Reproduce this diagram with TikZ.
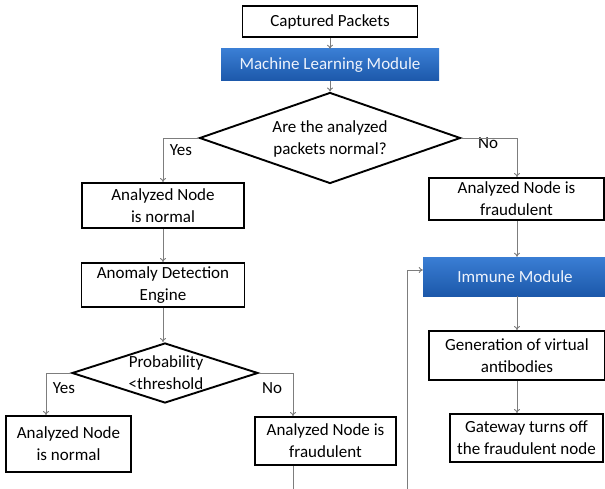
\documentclass[tikz,border=0pt]{standalone}
\usepackage{fontspec}
\setmainfont{Carlito}
\usetikzlibrary{arrows.meta,shapes.geometric}
\definecolor{lineg}{RGB}{125,125,125}
\definecolor{bluetop}{RGB}{58,126,212}
\definecolor{bluebot}{RGB}{28,88,170}
\definecolor{bluetext}{RGB}{238,243,252}
\begin{document}
\begin{tikzpicture}[x=1pt,y=-1pt,
  font=\fontsize{17}{22}\selectfont,
  box/.style={draw=black,line width=1.9pt,align=center,inner sep=0pt},
  bluebox/.style={top color=bluetop,bottom color=bluebot,text=bluetext,align=center,inner sep=0pt},
  dia/.style={draw=black,line width=1.9pt,diamond,inner sep=0pt},
  conn/.style={draw=lineg,line width=0.9pt},
  arr/.style={conn,-{To[length=4pt,width=6pt]}},
  lbl/.style={inner sep=0pt}]
\useasboundingbox (0,0) rectangle (605,489);
\fill[white] (0,0) rectangle (605,489);
% nodes
\node[box,minimum width=175pt,minimum height=31pt] (cap) at (330,21.5) {Captured Packets};
\node[bluebox,minimum width=218pt,minimum height=32pt] (ml) at (330,65) {Machine Learning Module};
\node[dia,minimum width=261pt,minimum height=91pt] (d1) at (330,138) {};
\node[align=center,inner sep=0pt] (d1t) at (330,139) {Are the analyzed\\packets normal?};
\node[box,minimum width=162pt,minimum height=45pt] (an1) at (163,205.5) {Analyzed Node\\is normal};
\node[box,minimum width=175pt,minimum height=42pt] (af1) at (516.5,199) {Analyzed Node is\\fraudulent};
\node[box,minimum width=163pt,minimum height=44pt] (ade) at (163,285) {Anomaly Detection\\Engine};
\node[dia,minimum width=186pt,minimum height=60pt] (d2) at (165,373) {};
\node[align=center,inner sep=0pt] (d2t) at (166,373) {Probability\\<threshold};
\node[box,minimum width=125pt,minimum height=56pt] (an2) at (68.5,444) {Analyzed Node\\is normal};
\node[box,minimum width=141pt,minimum height=48pt] (af2) at (325.5,441) {Analyzed Node is\\fraudulent};
\node[bluebox,minimum width=184pt,minimum height=39pt] (im) at (515,276.5) {Immune Module};
\node[box,minimum width=176pt,minimum height=49pt] (gen) at (517,355.5) {Generation of virtual\\antibodies};
\node[box,minimum width=153pt,minimum height=48pt] (gw) at (526.5,438) {Gateway turns off\\the fraudulent node};
% labels
\node[lbl] (y1) at (181,150) {Yes};
\node[lbl] (n1) at (488,143) {No};
\node[lbl] (y2) at (64,388) {Yes};
\node[lbl] (n2) at (272,388) {No};
% helper coordinates
\coordinate (ya) at (163,138);
\coordinate (nr) at (517,138);
\coordinate (yb) at (46,373);
\coordinate (nb) at (293,373);
\coordinate (lp1) at (293,493);
\coordinate (lp2) at (407,493);
\coordinate (lp3) at (407,270);
% connectors
\draw[arr] (cap) -- (ml);
\draw[arr] (ml) -- (d1);
\draw[arr] (d1.west) -- (ya) -- (an1.north);
\draw[arr] (d1.east) -- (nr) -- (nr |- af1.north);
\draw[arr] (an1) -- (ade);
\draw[arr] (ade.south) -- (ade.south |- d2.north);
\draw[arr] (d2.west) -- (yb) -- (yb |- an2.north);
\draw[arr] (d2.east) -- (nb) -- (nb |- af2.north);
\draw[arr] (lp1 |- af2.south) -- (lp1) -- (lp2) -- (lp3) -- (lp3 -| im.west);
\draw[arr] (nr |- af1.south) -- (nr |- im.north);
\draw[arr] (nr |- im.south) -- (nr |- gen.north);
\draw[arr] (nr |- gen.south) -- (nr |- gw.north);
\end{tikzpicture}
\end{document}
